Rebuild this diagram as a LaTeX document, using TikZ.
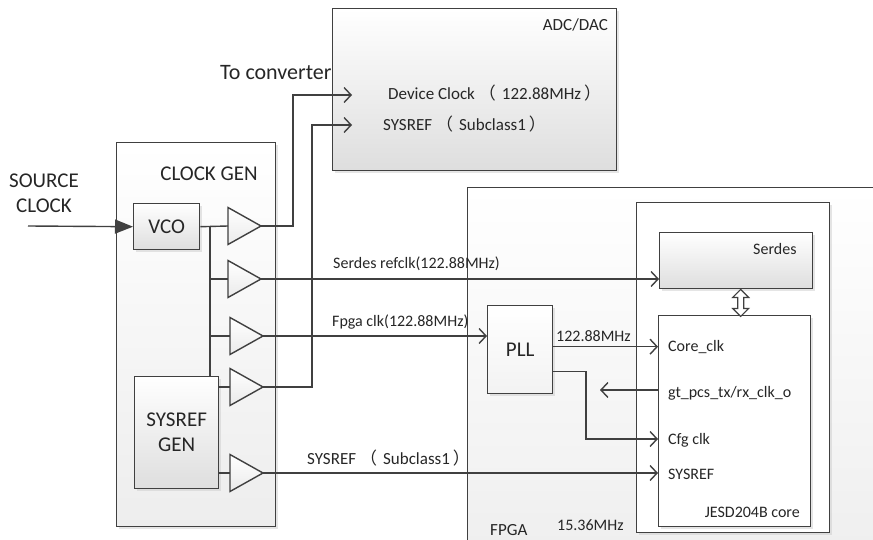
\documentclass[tikz,border=0pt]{standalone}
\usepackage{fontspec}
\setmainfont{Carlito}
\newfontfamily\cjk{Noto Sans CJK SC}
\usetikzlibrary{arrows.meta,shadows}
\definecolor{ln}{HTML}{404040}
\newcommand{\lpar}{\kern4pt{\cjk （}\kern6pt}
\newcommand{\rpar}{\kern3pt{\cjk ）}}
\tikzset{
 box/.style={draw=ln, line width=1.4pt, rectangle, inner sep=0pt, anchor=north west,
   font=\fontsize{21}{25}\selectfont, text=black!85, align=center},
 grad/.style={top color=white, bottom color=black!13},
 lightgrad/.style={top color=white, bottom color=black!7},
 shad/.style={drop shadow={shadow xshift=2pt, shadow yshift=-2pt, fill=black!20}},
 lbl/.style={inner sep=0pt, font=\fontsize{16}{19}\selectfont, text=black!85},
 mlbl/.style={inner sep=0pt, font=\fontsize{17}{20}\selectfont, text=black!85},
 big/.style={inner sep=0pt, font=\fontsize{21}{25}\selectfont, text=black!85, align=center},
 wire/.style={draw=ln, line width=1.4pt},
 arr/.style={wire, -{Straight Barb[length=7pt,width=15pt,line width=1.4pt]}},
 pics/buf/.style={code={
   \draw[wire, top color=white, bottom color=black!8] (0,-18.5) -- (33,0) -- (0,18.5) -- cycle;
   \coordinate (-in) at (0,0); \coordinate (-out) at (33,0);}}
}
\begin{document}
\begin{tikzpicture}[x=1pt,y=-1pt]
\useasboundingbox (0,0) rectangle (873,540);
\clip (0,0) rectangle (873,540);
% big boxes
\node[box, lightgrad, shad, minimum width=450pt, minimum height=400pt] (fpga) at (467,187) {};
\node[box, lightgrad, shad, minimum width=159pt, minimum height=384pt] (cg) at (116,142) {};
\node[box, grad, shad, minimum width=284pt, minimum height=162pt] (adc) at (332,8) {};
\node[box, fill=white, shad, minimum width=193pt, minimum height=330pt] (jesd) at (636,202) {};
\node[box, grad, shad, minimum width=153pt, minimum height=56pt] (serdes) at (659,232) {};
\node[box, fill=white, shad, minimum width=152pt, minimum height=211pt] (core) at (658,315) {};
\node[box, top color=white, bottom color=black!5, shad, minimum width=65pt, minimum height=88pt] (pll) at (487,305) {PLL};
\node[box, grad, shad, minimum width=66pt, minimum height=46pt] (vco) at (133,203) {VCO};
\node[box, grad, shad, minimum width=84pt, minimum height=112pt] (sgen) at (134,376) {SYSREF\\GEN};
% buffers
\pic (b1) at (228,226) {buf};
\pic (b2) at (228,279) {buf};
\pic (b3) at (230,336) {buf};
\pic (b4) at (230,387) {buf};
\pic (b5) at (230,473) {buf};
% coordinates
\coordinate (src) at (28,226);
\coordinate (t1) at (210,226);
\coordinate (j1) at (293,95);
\coordinate (j2) at (312,125);
\coordinate (devin) at (352,95);
\coordinate (sysin) at (352,125);
\coordinate (po1) at ([yshift=3pt]pll.east);
\coordinate (po2) at ([yshift=-22pt]pll.east);
\coordinate (cfgin) at (core.west |- 0,439);
\coordinate (cfgbend) at (586,0);
\coordinate (gtsrc) at (core.west |- 0,390);
\coordinate (gtend) at (600,390);
\coordinate (dtop) at ([xshift=4.5pt]serdes.south);
% wires
\draw[wire, -{Triangle[length=18pt,width=14pt]}] (src) -- (vco.west);
\draw[wire] (vco.east) -- (b1-in);
\draw[wire] (t1) -- (t1 |- sgen.north);
\draw[wire] (t1 |- b2-in) -- (b2-in);
\draw[wire] (t1 |- b3-in) -- (b3-in);
\draw[wire] (sgen.east |- b4-in) -- (b4-in);
\draw[wire] (sgen.east |- b5-in) -- (b5-in);
\draw[arr] (b1-out) -| (j1) -- (devin);
\draw[arr] (b4-out) -| (j2) -- (sysin);
\draw[arr] (b2-out) -- (b2-out -| serdes.west);
\draw[arr] (b3-out) -- (b3-out -| pll.west);
\draw[arr] (b5-out) -- (b5-out -| core.west);
\draw[arr] (po1) -- (po1 -| core.west);
\draw[arr] (po2) -| (cfgbend |- cfgin) -- (cfgin);
\draw[arr] (gtsrc) -- (gtend);
\draw[draw=ln, line width=1.2pt, fill=white] (dtop) -- ++(8,8) -- ++(-5,0) -- ++(0,11) -- ++(5,0)
  -- ++(-8,8) -- ++(-8,-8) -- ++(5,0) -- ++(0,-11) -- ++(-5,0) -- cycle;
% labels
\node[big] (srclbl) at (44,193) {SOURCE\\CLOCK};
\node[big] (cglbl) at (209,174) {CLOCK GEN};
\node[big, anchor=west, font=\fontsize{22}{26}\selectfont] (tolbl) at (220,73) {To converter};
\node[mlbl, anchor=east] (adclbl) at (608,25) {ADC/DAC};
\node[mlbl, anchor=west] (devlbl) at (388,93) {Device Clock\lpar 122.88MHz\rpar};
\node[mlbl, anchor=west] (syslbl) at (383,124) {SYSREF\lpar Subclass1\rpar};
\node[lbl, anchor=west] (srlbl) at (333,264) {Serdes refclk(122.88MHz)};
\node[lbl, anchor=west] (fclbl) at (332,322) {Fpga clk(122.88MHz)};
\node[mlbl, anchor=west] (sys2lbl) at (307,458) {SYSREF\lpar Subclass1\rpar};
\node[lbl, anchor=west] (serlbl) at (753,249) {Serdes};
\node[lbl, anchor=west] (pllf) at (556,336) {122.88MHz};
\node[lbl, anchor=west] (corelbl) at (668,347) {Core\_clk};
\node[lbl, anchor=west] (gtlbl) at (668,393) {gt\_pcs\_tx/rx\_clk\_o};
\node[lbl, anchor=west] (cfglbl) at (668,440) {Cfg clk};
\node[lbl, anchor=west] (sys3lbl) at (668,474) {SYSREF};
\node[lbl, anchor=east] (jlbl) at (800,512) {JESD204B core};
\node[mlbl, anchor=west] (fpgalbl) at (490,530) {FPGA};
\node[lbl, anchor=west] (f15) at (557,525) {15.36MHz};
\end{tikzpicture}
\end{document}
